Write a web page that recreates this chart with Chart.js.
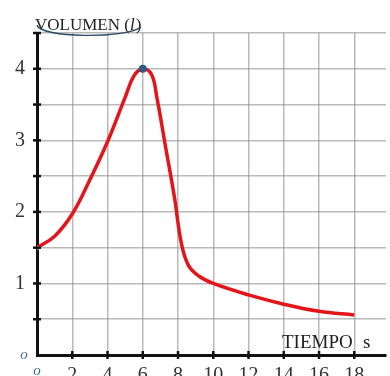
<!DOCTYPE html>
<html>
<head>
<meta charset="utf-8">
<script src="https://cdn.jsdelivr.net/npm/chart.js@4.4.1/dist/chart.umd.min.js"></script>
<style>
    html, body { margin: 0; padding: 0; background: #fff; }
    #wrap { width: 390px; height: 376px; }
</style>
</head>
<body>
<div id="wrap"><canvas id="volume-chart"></canvas></div>
<script>
// values
const timeX = [0, 1, 2, 3, 4, 5, 5.5, 6, 6.5, 6.8, 7.3, 7.8, 8.2, 8.6, 9.2, 10, 12, 14, 16, 18];
const volumeY = [1.5, 1.66, 1.97, 2.45, 2.98, 3.6, 3.9, 4.0, 3.92, 3.6, 2.9, 2.2, 1.55, 1.25, 1.1, 1.0, 0.84, 0.71, 0.61, 0.56];

const peakX = [6];
const peakY = [4];
const startX = [0];
const startY = [1.5];

const xTicks = [0, 2, 4, 6, 8, 10, 12, 14, 16, 18];
const yTicks = [0, 0.5, 1, 1.5, 2, 2.5, 3, 3.5, 4, 4.5];
const yLabels = [1, 2, 3, 4];

const X_MAX = 19.8;
const Y_MAX = 4.5;

const SERIF = "'Liberation Serif', 'DejaVu Serif', serif";

function points(xs, ys) {
    return xs.map((x, i) => ({x: x, y: ys[i]}));
}

function noPadding(scale) {
    scale.paddingTop = 0;
    scale.paddingBottom = 0;
    scale.paddingLeft = 0;
    scale.paddingRight = 0;
}

// axis tick marks crossing the axes, titles and hand-drawn marks
const decorations = {
    id: 'decorations',
    afterDraw(chart) {
        const ctx = chart.ctx;
        const xs = chart.scales.x;
        const ys = chart.scales.y;
        const x0 = xs.getPixelForValue(0);
        const y0 = ys.getPixelForValue(0);

        ctx.save();
        ctx.strokeStyle = '#111';
        ctx.lineWidth = 2.5;
        for (const v of yTicks) {
            if (v == 0) continue;
            let py = ys.getPixelForValue(v);
            ctx.beginPath();
            ctx.moveTo(x0 - 4, py);
            ctx.lineTo(x0 + 4, py);
            ctx.stroke();
        }
        for (const v of xTicks) {
            if (v == 0) continue;
            let px = xs.getPixelForValue(v);
            ctx.beginPath();
            ctx.moveTo(px, y0 - 4);
            ctx.lineTo(px, y0 + 4);
            ctx.stroke();
        }

        ctx.fillStyle = '#222';
        ctx.textBaseline = 'alphabetic';
        ctx.textAlign = 'left';
        ctx.font = `17px ${SERIF}`;
        ctx.fillText('VOLUMEN (', 35, 30);
        let w = ctx.measureText('VOLUMEN (').width;
        ctx.font = `italic 17px ${SERIF}`;
        ctx.fillText('l', 35 + w, 30);
        let w2 = ctx.measureText('l').width;
        ctx.font = `17px ${SERIF}`;
        ctx.fillText(')', 35 + w + w2 + 1, 30);

        ctx.font = `19px ${SERIF}`;
        ctx.fillText('TIEMPO', 282, 348);
        ctx.fillText('s', 363, 348);

        // hand-drawn underline under the title
        ctx.strokeStyle = '#2c4a68';
        ctx.lineWidth = 1.4;
        ctx.beginPath();
        ctx.moveTo(37, 25);
        ctx.bezierCurveTo(40, 38, 125, 39, 141, 27);
        ctx.stroke();

        // handwritten zeros
        ctx.fillStyle = '#4a6a8c';
        ctx.font = `italic 15px ${SERIF}`;
        ctx.textAlign = 'center';
        ctx.fillText('o', 24, 359);
        ctx.fillText('o', 37, 375);
        ctx.restore();
    }
};

new Chart(document.getElementById('volume-chart'), {
    type: 'line',
    data: {
        datasets: [
            {
                data: points(timeX, volumeY),
                borderColor: '#e3151b',
                borderWidth: 3.5,
                pointRadius: 0,
                tension: 0.4,
                order: 2
            },
            {
                data: points(peakX, peakY),
                showLine: false,
                pointRadius: 4,
                pointBackgroundColor: '#2f5b86',
                pointBorderWidth: 0,
                order: 1
            },
            {
                data: points(startX, startY),
                showLine: false,
                pointRadius: 2.5,
                pointBackgroundColor: '#6f86a0',
                pointBorderWidth: 0,
                order: 1
            }
        ]
    },
    options: {
        responsive: true,
        maintainAspectRatio: false,
        animation: false,
        layout: {
            padding: {top: 33, right: 0, left: 0, bottom: 0}
        },
        plugins: {
            legend: {display: false},
            tooltip: {enabled: false}
        },
        scales: {
            x: {
                type: 'linear',
                min: 0,
                max: X_MAX,
                afterBuildTicks: (scale) => {
                    scale.ticks = xTicks.map(v => ({value: v}));
                },
                afterFit: (scale) => {
                    scale.height = 21;
                    noPadding(scale);
                },
                border: {color: '#111', width: 3},
                grid: {
                    color: 'rgba(140,140,140,0.6)',
                    lineWidth: 1.5,
                    drawTicks: false
                },
                ticks: {
                    padding: 9,
                    color: '#333',
                    font: {family: SERIF, size: 20},
                    maxRotation: 0,
                    autoSkip: false,
                    callback: (v) => v == 0 ? '' : String(v)
                }
            },
            y: {
                min: 0,
                max: Y_MAX,
                afterBuildTicks: (scale) => {
                    scale.ticks = yTicks.map(v => ({value: v}));
                },
                afterFit: (scale) => {
                    scale.width = 37;
                    noPadding(scale);
                },
                border: {color: '#111', width: 3},
                grid: {
                    color: 'rgba(140,140,140,0.6)',
                    lineWidth: 1.5,
                    drawTicks: false
                },
                ticks: {
                    padding: 12,
                    color: '#333',
                    font: {family: SERIF, size: 20},
                    autoSkip: false,
                    callback: (v) => yLabels.includes(v) ? String(v) : ''
                }
            }
        }
    },
    plugins: [decorations]
});
</script>
</body>
</html>
